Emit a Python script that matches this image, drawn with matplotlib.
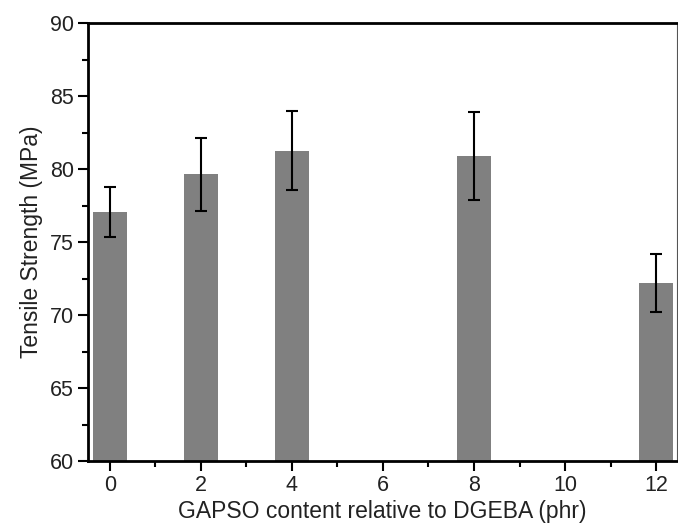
import matplotlib
matplotlib.use("Agg")
import matplotlib.pyplot as plt
from matplotlib.ticker import MultipleLocator

content = [0, 2, 4, 8, 12]
strength = [77.05, 79.65, 81.25, 80.9, 72.2]
errors = [1.7, 2.5, 2.7, 3.0, 2.0]
xticks = [0, 2, 4, 6, 8, 10, 12]

plt.rcParams['font.family'] = ['Liberation Sans', 'DejaVu Sans']

fig = plt.figure(figsize=(6.78, 5.29), dpi=100)
ax = fig.add_axes([88/678, 1 - 461/529, (677-88)/678, (461-23)/529])

ax.bar(content, [s - 60 for s in strength], bottom=60, width=0.75, color='#808080',
       yerr=errors, error_kw=dict(ecolor='black', elinewidth=1.5, capsize=4, capthick=1.5))

ax.set_xlim(-0.48, 12.46)
ax.set_ylim(60, 90)
ax.set_xticks(xticks)
ax.xaxis.set_minor_locator(MultipleLocator(1))
ax.yaxis.set_major_locator(MultipleLocator(5))
ax.yaxis.set_minor_locator(MultipleLocator(2.5))

ax.tick_params(axis='both', which='major', direction='out', length=7, width=1.5, labelsize=15.5,
               colors='black', pad=3)
ax.tick_params(axis='both', which='minor', direction='out', length=4, width=1.5)
ax.tick_params(axis='x', labelcolor='#222222')
ax.tick_params(axis='y', labelcolor='#222222')

ax.spines['left'].set_linewidth(2)
ax.spines['bottom'].set_linewidth(2)
ax.spines['top'].set_linewidth(2)
ax.spines['right'].set_linewidth(0.8)
ax.spines['right'].set_color('#555555')

ax.set_xlabel('GAPSO content relative to DGEBA (phr)', fontsize=16.5, color='#222222', labelpad=3)
ax.set_ylabel('Tensile Strength (MPa)', fontsize=16.5, color='#222222', labelpad=5)

fig.savefig('out.png', dpi=100)
